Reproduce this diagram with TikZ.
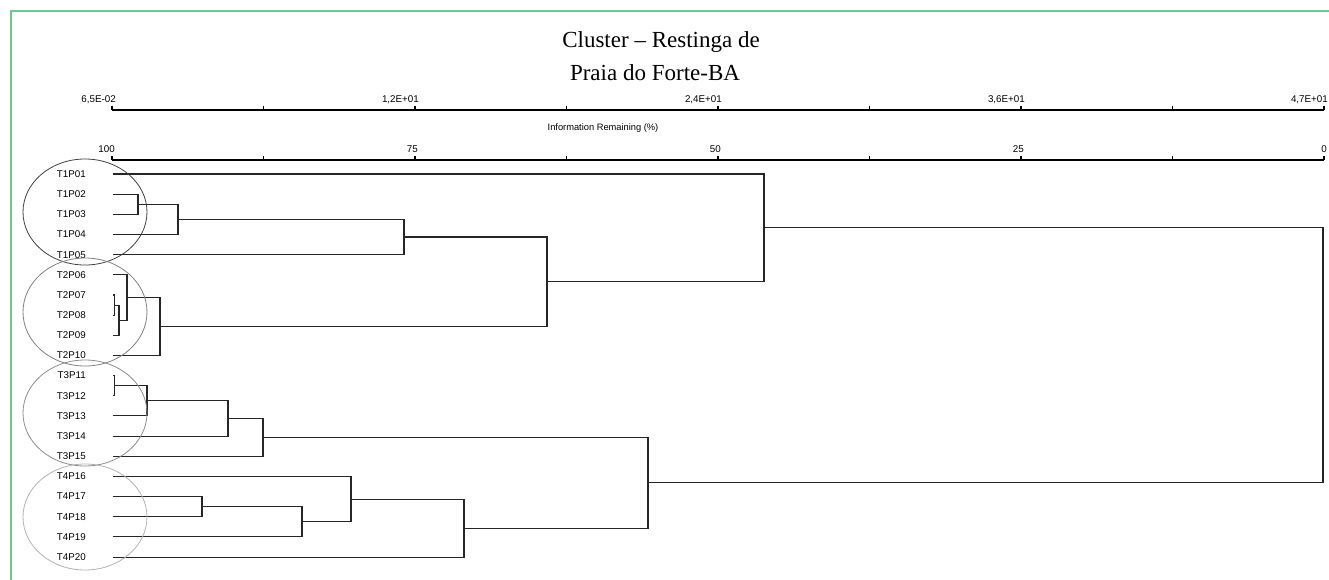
\documentclass[tikz,border=0pt]{standalone}
\usepackage{fontspec}
\setmainfont{Liberation Sans}
\newfontfamily\titlefont[Ligatures=TeX]{Liberation Serif}
\usetikzlibrary{calc}
\definecolor{framegreen}{RGB}{110,200,145}

\begin{document}
\begin{tikzpicture}[%
x=1pt, y=-1pt,
link/.style={line width=1.1pt, draw=black!85},
axis/.style={line width=1.8pt},
leaf/.style={anchor=east, inner sep=0pt, font=\fontsize{9.8}{10}\selectfont},
ticklabel/.style={anchor=base east, inner sep=0pt, font=\fontsize{9.8}{10}\selectfont},
group/.style={line width=.8pt},
frame/.style={draw=framegreen, line width=1.5pt},
]

\useasboundingbox (0,0) rectangle (1329,579);
\draw[frame] (11,600) -- (11,11) -- (1345,11);

% title
\node[anchor=base, inner sep=0pt, font=\titlefont\fontsize{23}{28}\selectfont] (title1) at (661,47) {Cluster – Restinga de};
\node[anchor=base, inner sep=0pt, font=\titlefont\fontsize{23}{28}\selectfont] (title2) at (655,80) {Praia do Forte-BA};

% axes
\pgfmathsetmacro{\tickstep}{151.5}
\coordinate (ta0) at (112,110);
\coordinate (ta8) at (1324,110);
\draw[axis] (ta0)--(ta8);
\coordinate (ba0) at (112,160);
\coordinate (ba8) at (1324,160);
\draw[axis] (ba0)--(ba8);
\foreach \k in {0,...,8}{
  \draw[axis] ({112+\tickstep*\k},110) -- ++(0,-4.5);
  \draw[axis] ({112+\tickstep*\k},160) -- ++(0,-4.5);
}
\foreach \k/\v in {0/{6,5E-02},2/{1,2E+01},4/{2,4E+01},6/{3,6E+01},8/{4,7E+01}}
  \node[ticklabel] (tl\k) at ({116+\tickstep*\k},102) {\v};
\foreach \k/\v in {0/100,2/75,4/50,6/25,8/0}
  \node[ticklabel] (bl\k) at ({115+\tickstep*\k},152) {\v};
\node[anchor=base, inner sep=0pt, font=\fontsize{9.3}{10}\selectfont] (axtitle) at (603,130) {Information Remaining (\%)};

% leaves
\foreach \nm [count=\i] in {T1P01,T1P02,T1P03,T1P04,T1P05,T2P06,T2P07,T2P08,T2P09,T2P10,%
  T3P11,T3P12,T3P13,T3P14,T3P15,T4P16,T4P17,T4P18,T4P19,T4P20}{
  \pgfmathsetmacro{\ly}{174+20.16*(\i-1)}
  \node[leaf] (n\i) at (86,\ly) {\nm};
  \coordinate (c\i) at (113,\ly);
}

% merge points
\coordinate (m23) at (138,204.25);
\coordinate (m234) at (178,219.4);
\coordinate (m2345) at (404,237.0);
\coordinate (m78) at (114.5,305.05);
\coordinate (m789) at (119,320.2);
\coordinate (m6789) at (127,297.5);
\coordinate (mC2) at (160,326.45);
\coordinate (mA) at (547,281.7);
\coordinate (mB) at (764,227.9);
\coordinate (m1112) at (114.5,385.7);
\coordinate (m13) at (147,400.8);
\coordinate (m14) at (228,418.45);
\coordinate (mC3) at (263,437.3);
\coordinate (m1718) at (202,506.65);
\coordinate (m19) at (302,521.8);
\coordinate (m16) at (351,499.1);
\coordinate (mC4) at (464,528.05);
\coordinate (mD) at (648,482.7);
\coordinate (root) at (1323,355.3);

\draw[link] (c2) -| (m23) |- (c3);
\draw[link] (m23) -| (m234) |- (c4);
\draw[link] (m234) -| (m2345) |- (c5);
\draw[link] (c7) -| (m78) |- (c8);
\draw[link] (m78) -| (m789) |- (c9);
\draw[link] (c6) -| (m6789) |- (m789);
\draw[link] (m6789) -| (mC2) |- (c10);
\draw[link] (m2345) -| (mA) |- (mC2);
\draw[link] (c1) -| (mB) |- (mA);
\draw[link] (c11) -| (m1112) |- (c12);
\draw[link] (m1112) -| (m13) |- (c13);
\draw[link] (m13) -| (m14) |- (c14);
\draw[link] (m14) -| (mC3) |- (c15);
\draw[link] (c17) -| (m1718) |- (c18);
\draw[link] (m1718) -| (m19) |- (c19);
\draw[link] (c16) -| (m16) |- (m19);
\draw[link] (m16) -| (mC4) |- (c20);
\draw[link] (mC3) -| (mD) |- (mC4);
\draw[link] (mB) -| (root) |- (mD);

% groups
\draw[group, draw=black!75] (85,212) ellipse (62pt and 53pt);
\draw[group, draw=black!50] (85,312) ellipse (62pt and 54pt);
\draw[group, draw=black!45] (85,413) ellipse (62pt and 53pt);
\draw[group, draw=black!30] (85,517) ellipse (62pt and 53pt);

\end{tikzpicture}
\end{document}
